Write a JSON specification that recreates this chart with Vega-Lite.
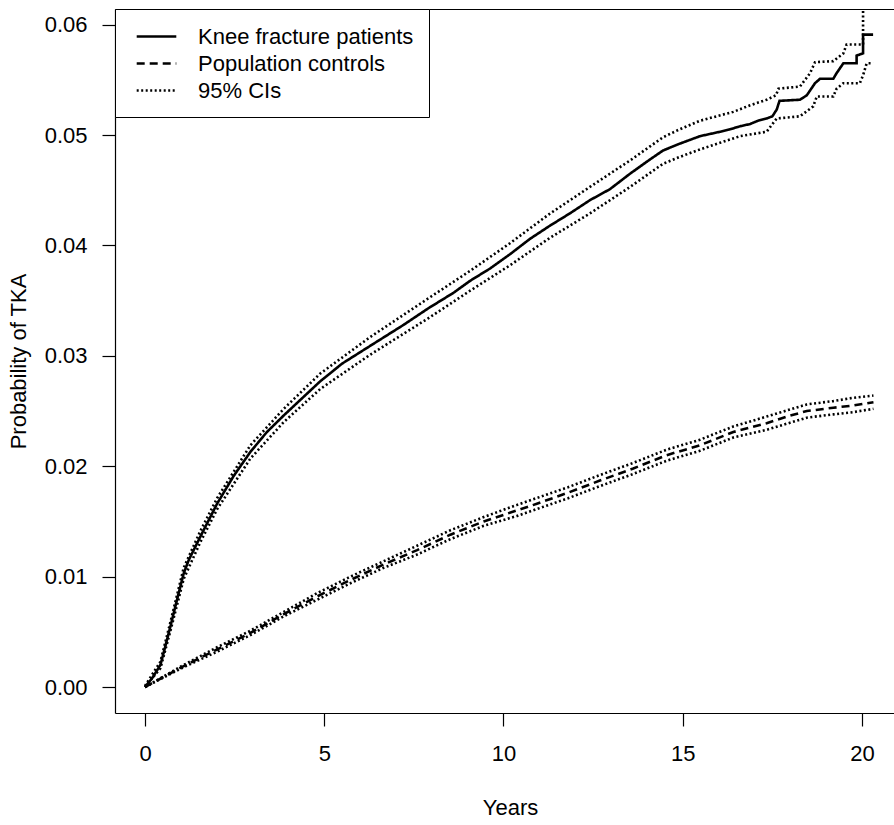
{
  "$schema": "https://vega.github.io/schema/vega-lite/v6.json",
  "autosize": "none",
  "width": 779,
  "height": 704,
  "padding": {"left": 115, "top": 9, "right": 0, "bottom": 112},
  "background": "white",
  "config": {
    "view": {"stroke": null},
    "font": "Liberation Sans",
    "axis": {"labelFont": "Liberation Sans", "titleFont": "Liberation Sans", "labelColor": "black", "titleColor": "black", "domainColor": "black", "tickColor": "black", "grid": false, "titleFontWeight": "normal"}
  },
  "data": {
    "values": [
      {"series": "K", "group": "Knee fracture patients", "year": 0, "prob": 0},
      {"series": "K", "group": "Knee fracture patients", "year": 0.2, "prob": 0.0008},
      {"series": "K", "group": "Knee fracture patients", "year": 0.43, "prob": 0.002},
      {"series": "K", "group": "Knee fracture patients", "year": 0.52, "prob": 0.0031},
      {"series": "K", "group": "Knee fracture patients", "year": 0.71, "prob": 0.0055},
      {"series": "K", "group": "Knee fracture patients", "year": 0.9, "prob": 0.008},
      {"series": "K", "group": "Knee fracture patients", "year": 1.08, "prob": 0.0103},
      {"series": "K", "group": "Knee fracture patients", "year": 1.22, "prob": 0.0115},
      {"series": "K", "group": "Knee fracture patients", "year": 1.54, "prob": 0.0136},
      {"series": "K", "group": "Knee fracture patients", "year": 2.01, "prob": 0.0166},
      {"series": "K", "group": "Knee fracture patients", "year": 2.47, "prob": 0.0191},
      {"series": "K", "group": "Knee fracture patients", "year": 2.94, "prob": 0.0213},
      {"series": "K", "group": "Knee fracture patients", "year": 3.4, "prob": 0.0231},
      {"series": "K", "group": "Knee fracture patients", "year": 3.87, "prob": 0.0246},
      {"series": "K", "group": "Knee fracture patients", "year": 4.33, "prob": 0.026},
      {"series": "K", "group": "Knee fracture patients", "year": 4.89, "prob": 0.0277},
      {"series": "K", "group": "Knee fracture patients", "year": 5.5, "prob": 0.0293},
      {"series": "K", "group": "Knee fracture patients", "year": 6.28, "prob": 0.0309},
      {"series": "K", "group": "Knee fracture patients", "year": 7.21, "prob": 0.0328},
      {"series": "K", "group": "Knee fracture patients", "year": 7.9, "prob": 0.0343},
      {"series": "K", "group": "Knee fracture patients", "year": 8.6, "prob": 0.0357},
      {"series": "K", "group": "Knee fracture patients", "year": 9.07, "prob": 0.0368},
      {"series": "K", "group": "Knee fracture patients", "year": 9.62, "prob": 0.0379},
      {"series": "K", "group": "Knee fracture patients", "year": 10.18, "prob": 0.0392},
      {"series": "K", "group": "Knee fracture patients", "year": 10.74, "prob": 0.0406},
      {"series": "K", "group": "Knee fracture patients", "year": 11.3, "prob": 0.0418},
      {"series": "K", "group": "Knee fracture patients", "year": 11.85, "prob": 0.0429},
      {"series": "K", "group": "Knee fracture patients", "year": 12.41, "prob": 0.0441},
      {"series": "K", "group": "Knee fracture patients", "year": 12.97, "prob": 0.0451},
      {"series": "K", "group": "Knee fracture patients", "year": 13.53, "prob": 0.0465},
      {"series": "K", "group": "Knee fracture patients", "year": 14.09, "prob": 0.0478},
      {"series": "K", "group": "Knee fracture patients", "year": 14.45, "prob": 0.0486},
      {"series": "K", "group": "Knee fracture patients", "year": 14.9, "prob": 0.0492},
      {"series": "K", "group": "Knee fracture patients", "year": 15.48, "prob": 0.0499},
      {"series": "K", "group": "Knee fracture patients", "year": 15.76, "prob": 0.0501},
      {"series": "K", "group": "Knee fracture patients", "year": 16.04, "prob": 0.0503},
      {"series": "K", "group": "Knee fracture patients", "year": 16.3, "prob": 0.0505},
      {"series": "K", "group": "Knee fracture patients", "year": 16.6, "prob": 0.0508},
      {"series": "K", "group": "Knee fracture patients", "year": 16.88, "prob": 0.051},
      {"series": "K", "group": "Knee fracture patients", "year": 17.1, "prob": 0.0513},
      {"series": "K", "group": "Knee fracture patients", "year": 17.34, "prob": 0.0515},
      {"series": "K", "group": "Knee fracture patients", "year": 17.5, "prob": 0.0517},
      {"series": "K", "group": "Knee fracture patients", "year": 17.62, "prob": 0.0523},
      {"series": "K", "group": "Knee fracture patients", "year": 17.7, "prob": 0.0531},
      {"series": "K", "group": "Knee fracture patients", "year": 18.27, "prob": 0.0532},
      {"series": "K", "group": "Knee fracture patients", "year": 18.46, "prob": 0.0536},
      {"series": "K", "group": "Knee fracture patients", "year": 18.69, "prob": 0.0547},
      {"series": "K", "group": "Knee fracture patients", "year": 18.83, "prob": 0.0551},
      {"series": "K", "group": "Knee fracture patients", "year": 19.2, "prob": 0.0551},
      {"series": "K", "group": "Knee fracture patients", "year": 19.29, "prob": 0.0556},
      {"series": "K", "group": "Knee fracture patients", "year": 19.48, "prob": 0.0565},
      {"series": "K", "group": "Knee fracture patients", "year": 19.85, "prob": 0.0565},
      {"series": "K", "group": "Knee fracture patients", "year": 19.85, "prob": 0.0572},
      {"series": "K", "group": "Knee fracture patients", "year": 20.03, "prob": 0.0574},
      {"series": "K", "group": "Knee fracture patients", "year": 20.03, "prob": 0.0591},
      {"series": "K", "group": "Knee fracture patients", "year": 20.31, "prob": 0.0591},

      {"series": "KU", "group": "95% CIs", "year": 0, "prob": 0.0001},
      {"series": "KU", "group": "95% CIs", "year": 0.43, "prob": 0.0023},
      {"series": "KU", "group": "95% CIs", "year": 0.71, "prob": 0.0059},
      {"series": "KU", "group": "95% CIs", "year": 1.08, "prob": 0.0108},
      {"series": "KU", "group": "95% CIs", "year": 1.54, "prob": 0.0141},
      {"series": "KU", "group": "95% CIs", "year": 2.01, "prob": 0.0171},
      {"series": "KU", "group": "95% CIs", "year": 2.94, "prob": 0.0219},
      {"series": "KU", "group": "95% CIs", "year": 3.87, "prob": 0.0252},
      {"series": "KU", "group": "95% CIs", "year": 4.89, "prob": 0.0284},
      {"series": "KU", "group": "95% CIs", "year": 6.28, "prob": 0.0317},
      {"series": "KU", "group": "95% CIs", "year": 7.9, "prob": 0.0352},
      {"series": "KU", "group": "95% CIs", "year": 9.07, "prob": 0.0377},
      {"series": "KU", "group": "95% CIs", "year": 10.18, "prob": 0.0402},
      {"series": "KU", "group": "95% CIs", "year": 11.3, "prob": 0.0429},
      {"series": "KU", "group": "95% CIs", "year": 12.41, "prob": 0.0453},
      {"series": "KU", "group": "95% CIs", "year": 13.53, "prob": 0.0477},
      {"series": "KU", "group": "95% CIs", "year": 14.45, "prob": 0.0498},
      {"series": "KU", "group": "95% CIs", "year": 14.9, "prob": 0.0505},
      {"series": "KU", "group": "95% CIs", "year": 15.48, "prob": 0.0513},
      {"series": "KU", "group": "95% CIs", "year": 16.41, "prob": 0.0521},
      {"series": "KU", "group": "95% CIs", "year": 16.88, "prob": 0.0527},
      {"series": "KU", "group": "95% CIs", "year": 17.34, "prob": 0.0532},
      {"series": "KU", "group": "95% CIs", "year": 17.6, "prob": 0.0536},
      {"series": "KU", "group": "95% CIs", "year": 17.67, "prob": 0.0542},
      {"series": "KU", "group": "95% CIs", "year": 18.27, "prob": 0.0544},
      {"series": "KU", "group": "95% CIs", "year": 18.55, "prob": 0.0556},
      {"series": "KU", "group": "95% CIs", "year": 18.69, "prob": 0.0566},
      {"series": "KU", "group": "95% CIs", "year": 19.2, "prob": 0.0567},
      {"series": "KU", "group": "95% CIs", "year": 19.48, "prob": 0.0574},
      {"series": "KU", "group": "95% CIs", "year": 19.57, "prob": 0.0582},
      {"series": "KU", "group": "95% CIs", "year": 20.03, "prob": 0.0582},
      {"series": "KU", "group": "95% CIs", "year": 20.03, "prob": 0.07},

      {"series": "KL", "group": "95% CIs", "year": 0, "prob": 0},
      {"series": "KL", "group": "95% CIs", "year": 0.43, "prob": 0.0017},
      {"series": "KL", "group": "95% CIs", "year": 0.71, "prob": 0.0051},
      {"series": "KL", "group": "95% CIs", "year": 1.08, "prob": 0.0098},
      {"series": "KL", "group": "95% CIs", "year": 1.54, "prob": 0.0131},
      {"series": "KL", "group": "95% CIs", "year": 2.01, "prob": 0.0161},
      {"series": "KL", "group": "95% CIs", "year": 2.94, "prob": 0.0207},
      {"series": "KL", "group": "95% CIs", "year": 3.87, "prob": 0.024},
      {"series": "KL", "group": "95% CIs", "year": 4.89, "prob": 0.027},
      {"series": "KL", "group": "95% CIs", "year": 6.28, "prob": 0.0301},
      {"series": "KL", "group": "95% CIs", "year": 7.9, "prob": 0.0334},
      {"series": "KL", "group": "95% CIs", "year": 9.07, "prob": 0.0359},
      {"series": "KL", "group": "95% CIs", "year": 10.18, "prob": 0.0382},
      {"series": "KL", "group": "95% CIs", "year": 11.3, "prob": 0.0407},
      {"series": "KL", "group": "95% CIs", "year": 12.41, "prob": 0.0429},
      {"series": "KL", "group": "95% CIs", "year": 13.53, "prob": 0.0453},
      {"series": "KL", "group": "95% CIs", "year": 14.45, "prob": 0.0474},
      {"series": "KL", "group": "95% CIs", "year": 14.9, "prob": 0.048},
      {"series": "KL", "group": "95% CIs", "year": 15.48, "prob": 0.0487},
      {"series": "KL", "group": "95% CIs", "year": 16.04, "prob": 0.0493},
      {"series": "KL", "group": "95% CIs", "year": 16.6, "prob": 0.0499},
      {"series": "KL", "group": "95% CIs", "year": 17.34, "prob": 0.0503},
      {"series": "KL", "group": "95% CIs", "year": 17.62, "prob": 0.0515},
      {"series": "KL", "group": "95% CIs", "year": 18.27, "prob": 0.0517},
      {"series": "KL", "group": "95% CIs", "year": 18.64, "prob": 0.0526},
      {"series": "KL", "group": "95% CIs", "year": 18.74, "prob": 0.0535},
      {"series": "KL", "group": "95% CIs", "year": 19.2, "prob": 0.0535},
      {"series": "KL", "group": "95% CIs", "year": 19.29, "prob": 0.0542},
      {"series": "KL", "group": "95% CIs", "year": 19.48, "prob": 0.0547},
      {"series": "KL", "group": "95% CIs", "year": 19.94, "prob": 0.0547},
      {"series": "KL", "group": "95% CIs", "year": 20.03, "prob": 0.0554},
      {"series": "KL", "group": "95% CIs", "year": 20.13, "prob": 0.0565},
      {"series": "KL", "group": "95% CIs", "year": 20.31, "prob": 0.0565},

      {"series": "C", "group": "Population controls", "year": 0, "prob": 0},
      {"series": "C", "group": "Population controls", "year": 1.08, "prob": 0.0019},
      {"series": "C", "group": "Population controls", "year": 2.01, "prob": 0.0034},
      {"series": "C", "group": "Population controls", "year": 2.94, "prob": 0.0049},
      {"series": "C", "group": "Population controls", "year": 3.87, "prob": 0.0066},
      {"series": "C", "group": "Population controls", "year": 4.8, "prob": 0.0082},
      {"series": "C", "group": "Population controls", "year": 5.73, "prob": 0.0097},
      {"series": "C", "group": "Population controls", "year": 6.66, "prob": 0.0111},
      {"series": "C", "group": "Population controls", "year": 7.59, "prob": 0.0124},
      {"series": "C", "group": "Population controls", "year": 8.52, "prob": 0.0138},
      {"series": "C", "group": "Population controls", "year": 9.45, "prob": 0.015},
      {"series": "C", "group": "Population controls", "year": 10.38, "prob": 0.016},
      {"series": "C", "group": "Population controls", "year": 10.93, "prob": 0.0166},
      {"series": "C", "group": "Population controls", "year": 11.8, "prob": 0.0176},
      {"series": "C", "group": "Population controls", "year": 12.69, "prob": 0.0187},
      {"series": "C", "group": "Population controls", "year": 13.62, "prob": 0.0198},
      {"series": "C", "group": "Population controls", "year": 14.55, "prob": 0.021},
      {"series": "C", "group": "Population controls", "year": 15.48, "prob": 0.0219},
      {"series": "C", "group": "Population controls", "year": 16.41, "prob": 0.0231},
      {"series": "C", "group": "Population controls", "year": 17.34, "prob": 0.0239},
      {"series": "C", "group": "Population controls", "year": 17.9, "prob": 0.0245},
      {"series": "C", "group": "Population controls", "year": 18.46, "prob": 0.025},
      {"series": "C", "group": "Population controls", "year": 19.2, "prob": 0.0253},
      {"series": "C", "group": "Population controls", "year": 19.76, "prob": 0.0255},
      {"series": "C", "group": "Population controls", "year": 20.32, "prob": 0.0258},

      {"series": "CU", "group": "95% CIs", "year": 0, "prob": 0},
      {"series": "CU", "group": "95% CIs", "year": 1.08, "prob": 0.002},
      {"series": "CU", "group": "95% CIs", "year": 2.01, "prob": 0.0036},
      {"series": "CU", "group": "95% CIs", "year": 2.94, "prob": 0.0051},
      {"series": "CU", "group": "95% CIs", "year": 3.87, "prob": 0.0068},
      {"series": "CU", "group": "95% CIs", "year": 4.8, "prob": 0.0085},
      {"series": "CU", "group": "95% CIs", "year": 5.73, "prob": 0.01},
      {"series": "CU", "group": "95% CIs", "year": 6.66, "prob": 0.0114},
      {"series": "CU", "group": "95% CIs", "year": 7.59, "prob": 0.0128},
      {"series": "CU", "group": "95% CIs", "year": 8.52, "prob": 0.0142},
      {"series": "CU", "group": "95% CIs", "year": 9.45, "prob": 0.0154},
      {"series": "CU", "group": "95% CIs", "year": 10.38, "prob": 0.0165},
      {"series": "CU", "group": "95% CIs", "year": 11.8, "prob": 0.0181},
      {"series": "CU", "group": "95% CIs", "year": 12.69, "prob": 0.0192},
      {"series": "CU", "group": "95% CIs", "year": 13.62, "prob": 0.0203},
      {"series": "CU", "group": "95% CIs", "year": 14.55, "prob": 0.0215},
      {"series": "CU", "group": "95% CIs", "year": 15.48, "prob": 0.0224},
      {"series": "CU", "group": "95% CIs", "year": 16.41, "prob": 0.0236},
      {"series": "CU", "group": "95% CIs", "year": 17.34, "prob": 0.0245},
      {"series": "CU", "group": "95% CIs", "year": 18.46, "prob": 0.0256},
      {"series": "CU", "group": "95% CIs", "year": 19.2, "prob": 0.0259},
      {"series": "CU", "group": "95% CIs", "year": 19.76, "prob": 0.0262},
      {"series": "CU", "group": "95% CIs", "year": 20.32, "prob": 0.0264},

      {"series": "CL", "group": "95% CIs", "year": 0, "prob": 0},
      {"series": "CL", "group": "95% CIs", "year": 1.08, "prob": 0.0018},
      {"series": "CL", "group": "95% CIs", "year": 2.01, "prob": 0.0032},
      {"series": "CL", "group": "95% CIs", "year": 2.94, "prob": 0.0047},
      {"series": "CL", "group": "95% CIs", "year": 3.87, "prob": 0.0064},
      {"series": "CL", "group": "95% CIs", "year": 4.8, "prob": 0.0079},
      {"series": "CL", "group": "95% CIs", "year": 5.73, "prob": 0.0094},
      {"series": "CL", "group": "95% CIs", "year": 6.66, "prob": 0.0108},
      {"series": "CL", "group": "95% CIs", "year": 7.59, "prob": 0.012},
      {"series": "CL", "group": "95% CIs", "year": 8.52, "prob": 0.0134},
      {"series": "CL", "group": "95% CIs", "year": 9.45, "prob": 0.0146},
      {"series": "CL", "group": "95% CIs", "year": 10.38, "prob": 0.0155},
      {"series": "CL", "group": "95% CIs", "year": 11.8, "prob": 0.0171},
      {"series": "CL", "group": "95% CIs", "year": 12.69, "prob": 0.0182},
      {"series": "CL", "group": "95% CIs", "year": 13.62, "prob": 0.0193},
      {"series": "CL", "group": "95% CIs", "year": 14.55, "prob": 0.0205},
      {"series": "CL", "group": "95% CIs", "year": 15.48, "prob": 0.0214},
      {"series": "CL", "group": "95% CIs", "year": 16.41, "prob": 0.0226},
      {"series": "CL", "group": "95% CIs", "year": 17.34, "prob": 0.0233},
      {"series": "CL", "group": "95% CIs", "year": 18.46, "prob": 0.0244},
      {"series": "CL", "group": "95% CIs", "year": 19.2, "prob": 0.0247},
      {"series": "CL", "group": "95% CIs", "year": 19.76, "prob": 0.0249},
      {"series": "CL", "group": "95% CIs", "year": 20.32, "prob": 0.0252}
    ]
  },
  "layer": [
    {
      "mark": {"type": "line", "clip": true, "color": "black", "strokeCap": "butt"},
      "encoding": {
        "x": {
          "field": "year", "type": "quantitative",
          "scale": {"domain": [-0.837, 20.893], "nice": false, "zero": false},
          "axis": {"orient": "bottom", "values": [0, 5, 10, 15, 20], "format": "d", "labelFontSize": 22, "tickSize": 13, "labelPadding": 17, "domainWidth": 1.2, "tickWidth": 1.2, "title": "Years", "titleFontSize": 22, "titlePadding": 33, "titleX": 395, "labelFlush": false}
        },
        "y": {
          "field": "prob", "type": "quantitative",
          "scale": {"domain": [-0.002355, 0.06142], "nice": false, "zero": false},
          "axis": {"values": [0, 0.01, 0.02, 0.03, 0.04, 0.05, 0.06], "format": ".2f", "labelFontSize": 22, "tickSize": 13, "labelPadding": 15, "domainWidth": 1.2, "tickWidth": 1.2, "title": "Probability of TKA", "titleFontSize": 22, "titlePadding": 14, "labelFlush": false}
        },
        "detail": {"field": "series", "type": "nominal"},
        "order": {"field": "year", "type": "quantitative"},
        "strokeDash": {
          "field": "group", "type": "nominal",
          "scale": {"domain": ["Knee fracture patients", "Population controls", "95% CIs"], "range": [[1, 0], [8, 5], [2, 2.5]]},
          "legend": {
            "title": null, "orient": "none", "legendX": 0, "legendY": 0,
            "symbolType": "M-1.8,0H1.8", "symbolSize": 484, "symbolStrokeWidth": 1.3, "symbolStrokeColor": "black", "symbolFillColor": "transparent", "symbolOffset": 14,
            "labelFontSize": 22, "labelFont": "Liberation Sans", "labelColor": "black", "labelOffset": 29, "labelLimit": 500,
            "rowPadding": 3, "padding": 15, "strokeColor": "black", "fillColor": "white"
          }
        },
        "strokeWidth": {
          "field": "group", "type": "ordinal",
          "scale": {"domain": ["Knee fracture patients", "Population controls", "95% CIs"], "range": [2.6, 2.6, 1.8]},
          "legend": null
        }
      }
    },
    {
      "mark": {"type": "line", "opacity": 0},
      "encoding": {
        "x": {
          "field": "year", "type": "quantitative",
          "axis": {"orient": "top", "labels": false, "ticks": false, "title": null, "domainWidth": 1.2}
        },
        "y": {"field": "prob", "type": "quantitative", "axis": null},
        "detail": {"field": "series", "type": "nominal"}
      }
    }
  ],
  "resolve": {"axis": {"x": "independent", "y": "independent"}}
}
